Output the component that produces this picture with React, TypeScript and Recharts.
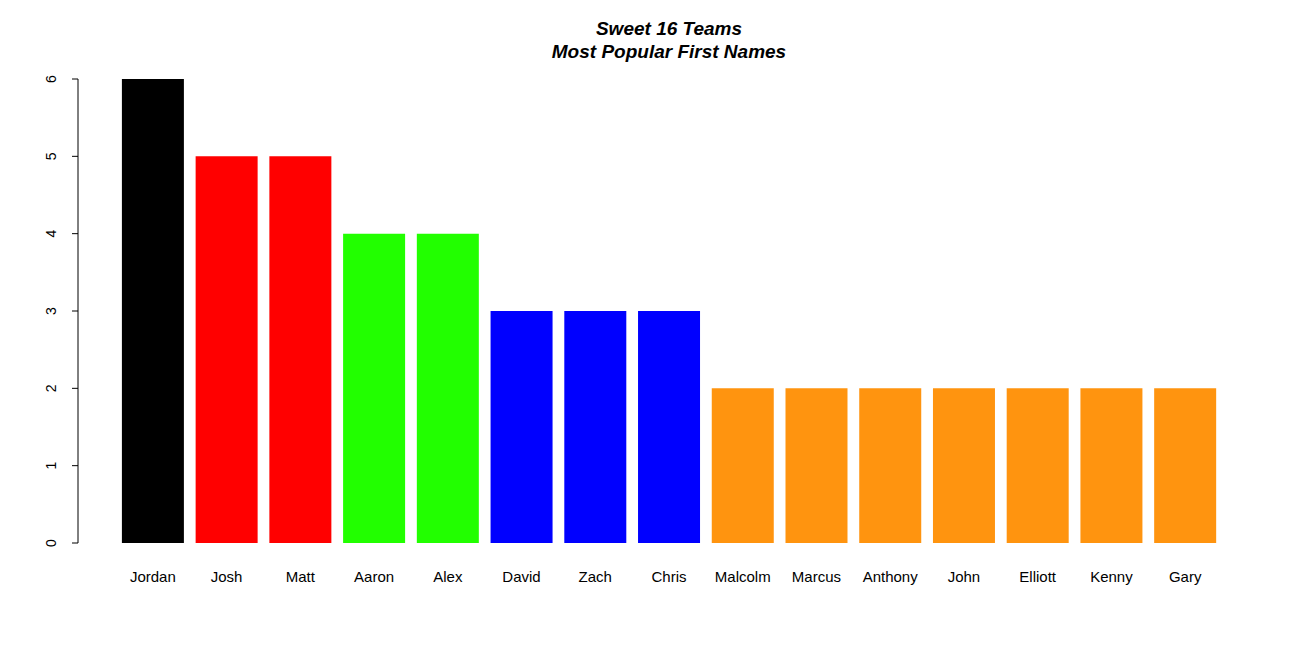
import { BarChart, Bar, XAxis, YAxis, Cell } from "recharts";

const names = ["Jordan", "Josh", "Matt", "Aaron", "Alex", "David", "Zach", "Chris", "Malcolm", "Marcus", "Anthony", "John", "Elliott", "Kenny", "Gary"];
const counts = [6, 5, 5, 4, 4, 3, 3, 3, 2, 2, 2, 2, 2, 2, 2];
const countColors: Record<number, string> = { 6: "#000000", 5: "#FF0000", 4: "#22FF00", 3: "#0000FF", 2: "#FF940F" };
const yTicks = [0, 1, 2, 3, 4, 5, 6];

const data = names.map((name, i) => ({ name, count: counts[i] }));
const font = "'Liberation Sans', Arial, sans-serif";

const YTick = ({ x, y, payload }: any) => (
  <text x={x - 14} y={y} transform={`rotate(-90 ${x - 14} ${y})`} textAnchor="middle" fontSize={14} fontFamily={font} fill="#000">
    {payload.value}
  </text>
);

export default function App() {
  return (
    <div style={{ position: "absolute", left: 0, top: 0, width: 1300, height: 646, background: "#fff" }}>
      <div style={{ position: "absolute", left: 0, width: 1338, top: 17, textAlign: "center", fontFamily: font, fontWeight: "bold", fontStyle: "italic", fontSize: 19, lineHeight: "23px" }}>
        Sweet 16 Teams<br />Most Popular First Names
      </div>
      <BarChart width={1300} height={646} data={data} margin={{ top: 79, right: 78, bottom: 73, left: 38 }} barCategoryGap="8%">
        <XAxis dataKey="name" height={30} axisLine={false} tickLine={false} padding={{ left: 38, right: 0 }} interval={0}
          tick={{ fontSize: 15, fontFamily: font, fill: "#000" }} dy={20} />
        <YAxis width={40} domain={[0, 6]} ticks={yTicks} axisLine={{ stroke: "#000" }} tickLine={{ stroke: "#000" }} tickSize={6} tick={<YTick />} />
        <Bar dataKey="count" isAnimationActive={false}>
          {data.map((d) => <Cell key={d.name} fill={countColors[d.count]} />)}
        </Bar>
      </BarChart>
    </div>
  );
}
